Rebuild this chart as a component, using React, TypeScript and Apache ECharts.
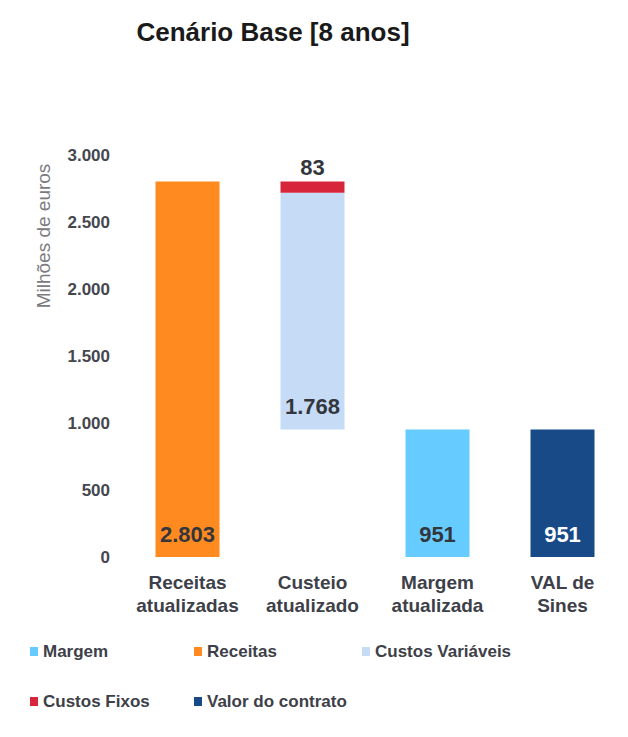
import React, { useEffect, useRef } from "react";
import * as echarts from "echarts";

const categories = ["Receitas\natualizadas", "Custeio\natualizado", "Margem\natualizada", "VAL de\nSines"];
const baseValues = [0, 951, 0, 0];
const receitas = [2803, "-", "-", "-"];
const custosVariaveis = ["-", 1768, "-", "-"];
const custosFixos = ["-", 83, "-", "-"];
const margem = ["-", "-", 951, "-"];
const valorContrato = ["-", "-", "-", 951];
const yTicks = { min: 0, max: 3000, interval: 500 };

const fmt = (v: number) => {
  const s = String(Math.round(v));
  return s.replace(/\B(?=(\d{3})+(?!\d))/g, ".");
};

const FONT = "Liberation Sans, Arial, Helvetica, sans-serif";
const TXT = "#3d4048";

export default function App() {
  const ref = useRef<HTMLDivElement>(null);
  useEffect(() => {
    document.body.style.margin = "0";
    const chart = echarts.init(ref.current!, null, { renderer: "svg" });
    const labelBase = {
      show: true,
      fontFamily: FONT,
      fontWeight: "bold" as const,
      fontSize: 22,
      color: "#33363d",
      formatter: (p: any) => fmt(p.value),
    };
    const legendText = { fontFamily: FONT, fontWeight: "bold" as const, fontSize: 17, color: TXT };
    const mkLegend = (name: string, left: number, top: number) => ({
      data: [name],
      left,
      top,
      padding: 0,
      itemWidth: 8,
      itemHeight: 9,
      itemGap: 0,
      icon: "rect",
      textStyle: legendText,
      selectedMode: false,
    });
    chart.setOption({
      animation: false,
      backgroundColor: "#ffffff",
      textStyle: { fontFamily: FONT },
      title: {
        text: "Cenário Base [8 anos]",
        left: 268,
        top: 14,
        textAlign: "center",
        textStyle: { fontFamily: FONT, fontWeight: "bold", fontSize: 26, color: "#1a1a1a" },
      },
      graphic: [
        {
          type: "text",
          x: 43,
          y: 236,
          rotation: Math.PI / 2,
          style: {
            text: "Milhões de euros",
            fontFamily: FONT,
            fontSize: 19,
            fill: "#7a7a80",
            align: "center",
            verticalAlign: "middle",
          },
        },
      ],
      legend: [
        mkLegend("Margem", 30, 643),
        mkLegend("Receitas", 194, 643),
        mkLegend("Custos Variáveis", 362, 643),
        mkLegend("Custos Fixos", 30, 693),
        mkLegend("Valor do contrato", 194, 693),
      ],
      grid: { left: 125, right: 3, top: 155, bottom: 180 },
      xAxis: {
        type: "category",
        data: categories,
        axisLine: { show: false },
        axisTick: { show: false },
        axisLabel: {
          fontFamily: FONT,
          fontWeight: "bold",
          fontSize: 19,
          color: TXT,
          lineHeight: 23,
          margin: 14,
          interval: 0,
        },
      },
      yAxis: {
        type: "value",
        min: yTicks.min,
        max: yTicks.max,
        interval: yTicks.interval,
        splitLine: { show: false },
        axisLine: { show: false },
        axisTick: { show: false },
        axisLabel: {
          fontFamily: FONT,
          fontWeight: "bold",
          fontSize: 17,
          color: "#45474f",
          margin: 15,
          formatter: (v: number) => fmt(v),
        },
      },
      series: [
        {
          name: "base",
          type: "bar",
          stack: "s",
          barWidth: 64,
          data: baseValues,
          itemStyle: { color: "transparent" },
          silent: true,
        },
        {
          name: "Receitas",
          type: "bar",
          stack: "s",
          data: receitas,
          itemStyle: { color: "#ff8a1f" },
          label: { ...labelBase, position: "insideBottom", distance: 12 },
        },
        {
          name: "Custos Variáveis",
          type: "bar",
          stack: "s",
          data: custosVariaveis,
          itemStyle: { color: "#c6dbf6" },
          label: { ...labelBase, position: "insideBottom", distance: 12 },
        },
        {
          name: "Custos Fixos",
          type: "bar",
          stack: "s",
          data: custosFixos,
          itemStyle: { color: "#d7263b" },
          label: { ...labelBase, position: "top", distance: 3 },
        },
        {
          name: "Margem",
          type: "bar",
          stack: "s",
          data: margem,
          itemStyle: { color: "#66ccff" },
          label: { ...labelBase, position: "insideBottom", distance: 12 },
        },
        {
          name: "Valor do contrato",
          type: "bar",
          stack: "s",
          data: valorContrato,
          itemStyle: { color: "#174a87" },
          label: { ...labelBase, position: "insideBottom", distance: 12, color: "#ffffff" },
        },
      ],
    });
    return () => chart.dispose();
  }, []);
  return <div ref={ref} style={{ width: 628, height: 737 }} />;
}
